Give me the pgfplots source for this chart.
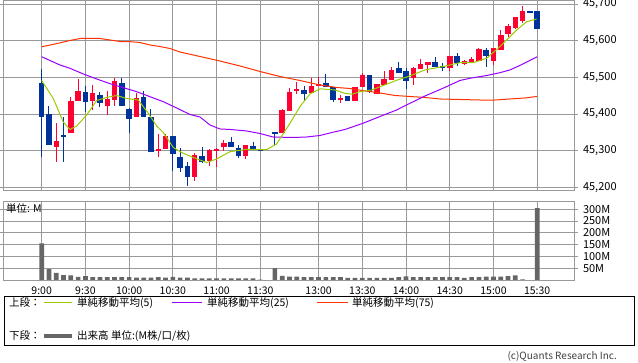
\documentclass[border=0pt]{standalone}
\usepackage{pgfplots}
\pgfplotsset{compat=1.18}
\usepackage{pgfplotstable}
\usepackage{fontspec}
\setmainfont{Noto Sans CJK JP}
\definecolor{upc}{HTML}{FF0033}
\definecolor{dnc}{HTML}{003399}
\definecolor{ma5c}{HTML}{99CC00}
\definecolor{ma25c}{HTML}{9900FF}
\definecolor{ma75c}{HTML}{FF3300}
\definecolor{volc}{HTML}{666666}
\definecolor{gridc}{HTML}{999999}

\pgfplotstableread{
x o h l c
2 45311 45375 45270 45326
4 45349 45446 45349 45435
5 45436 45495 45436 45463
7 45436 45479 45410 45456
9 45422 45463 45398 45441
10 45438 45498 45422 45490
13 45391 45458 45391 45444
16 45300 45345 45283 45304
17 45304 45345 45304 45340
21 45227 45293 45218 45287
23 45273 45304 45259 45302
24 45300 45306 45256 45304
25 45311 45329 45300 45322
28 45286 45314 45277 45314
33 45347 45414 45347 45411
34 45409 45470 45409 45459
35 45463 45486 45455 45467
37 45456 45497 45456 45476
38 45477 45501 45477 45482
41 45440 45452 45431 45444
43 45436 45473 45436 45473
44 45473 45513 45473 45506
46 45454 45482 45454 45482
47 45479 45517 45479 45495
48 45493 45529 45493 45520
51 45498 45528 45479 45525
52 45523 45550 45522 45536
53 45534 45542 45511 45542
56 45525 45558 45517 45558
58 45536 45547 45534 45545
59 45541 45556 45538 45549
60 45545 45581 45545 45577
62 45545 45581 45533 45579
63 45575 45629 45575 45615
64 45617 45645 45611 45640
65 45635 45664 45631 45664
66 45654 45695 45649 45682
}\up

\pgfplotstableread{
x o h l c
0 45484 45523 45282 45391
1 45401 45422 45315 45315
3 45343 45392 45270 45337
6 45460 45476 45406 45433
8 45452 45461 45419 45429
11 45485 45499 45422 45422
12 45415 45415 45349 45386
14 45446 45463 45392 45392
15 45393 45413 45297 45297
18 45340 45340 45245 45290
19 45283 45306 45243 45254
20 45258 45270 45204 45229
22 45285 45310 45265 45270
26 45324 45338 45309 45309
27 45308 45315 45280 45285
29 45313 45324 45302 45302
30 45303 45303 45300 45300
32 45352 45352 45315 45347
36 45465 45476 45435 45454
39 45485 45510 45473 45473
40 45474 45474 45434 45438
42 45450 45450 45436 45436
45 45506 45506 45456 45459
49 45526 45542 45513 45513
50 45517 45525 45469 45491
54 45541 45555 45529 45529
55 45532 45539 45518 45526
57 45558 45565 45531 45540
61 45575 45579 45529 45558
67 45681 45681 45678 45678
68 45681 45681 45631 45631
}\dn

\pgfplotsset{panel/.style={
  scale only axis, width=571pt, anchor=south west,
  xmin=-5.31, xmax=73.05,
  axis line style={draw=gridc, line width=0.8pt},
  grid=major, major grid style={draw=gridc, line width=0.8pt},
  xtick={0,6,12,18,24,30,38,44,50,56,62,68},
  xtick style={draw=none},
  ytick style={draw=gridc, line width=0.8pt},
  tick align=outside, major tick length=4pt,
  yticklabel pos=right,
  yticklabel style={anchor=west, xshift=1.5pt, font=\fontsize{11}{11}\selectfont},
}}

\begin{document}
\begin{tikzpicture}
\useasboundingbox (0pt,0pt) rectangle (638pt,362pt);

% price panel
\begin{axis}[panel, at={(3pt,172pt)}, height=190pt,
  ymin=45192.6, ymax=45710.9,
  ytick={45200,45300,45400,45500,45600,45700},
  yticklabels={{45,200},{45,300},{45,400},{45,500},{45,600},{45,700}},
  xticklabels={}]
% wicks
\addplot[draw=none, mark=none, error bars/.cd, y dir=both, y explicit, error mark=none,
  error bar style={line width=1pt, draw=upc}]
  table[x=x, y expr=(\thisrow{h}+\thisrow{l})/2, y error expr=(\thisrow{h}-\thisrow{l})/2] {\up};
\addplot[draw=none, mark=none, error bars/.cd, y dir=both, y explicit, error mark=none,
  error bar style={line width=1pt, draw=dnc}]
  table[x=x, y expr=(\thisrow{h}+\thisrow{l})/2, y error expr=(\thisrow{h}-\thisrow{l})/2] {\dn};
% bodies
\addplot[draw=none, mark=none, error bars/.cd, y dir=both, y explicit, error mark=none,
  error bar style={line width=5.5pt, draw=upc}]
  table[x=x, y expr=(\thisrow{o}+\thisrow{c})/2, y error expr=abs(\thisrow{c}-\thisrow{o})/2] {\up};
\addplot[draw=none, mark=none, error bars/.cd, y dir=both, y explicit, error mark=none,
  error bar style={line width=5.5pt, draw=dnc}]
  table[x=x, y expr=(\thisrow{o}+\thisrow{c})/2, y error expr=abs(\thisrow{o}-\thisrow{c})/2] {\dn};
% MA75
\addplot[ma75c, line width=1pt, mark=none] coordinates {
(0,45583.5)(1.14,45588)(2.51,45594)(3.88,45600.4)(5.26,45605.9)(6.63,45606.4)(8.0,45605.9)
(9.37,45601.8)(10.74,45597.7)(12.11,45597.2)(13.49,45595)(14.86,45588.2)(16.23,45584)
(17.6,45578.6)(18.98,45569)(21.72,45556.8)(24.46,45544.5)(27.21,45530.9)(29.95,45515.9)
(32.7,45502.2)(35.44,45491.3)(38.18,45479)(40.52,45472.2)(42.3,45469.5)(43.95,45464)
(46.0,45458.6)(48.48,45450.4)(50.53,45447.7)(52.59,45445)(54.65,45440.9)(57.39,45439.5)
(60.14,45438.1)(62.2,45438.1)(64.25,45440.9)(66.31,45443.6)(67.96,45447.7)};
% MA25
\addplot[ma25c, line width=1pt, mark=none] coordinates {
(0,45556.2)(1.14,45545.9)(2.51,45533.6)(3.88,45524.6)(5.71,45509.1)(7.55,45495.4)
(9.37,45482.7)(11.2,45471.7)(13.04,45460.8)(14.86,45447.1)(16.68,45433.5)(18.52,45416.3)
(20.35,45398.6)(21.72,45391.8)(23.09,45370)(24.46,45359.1)(25.84,45357.7)(28.13,45353.6)
(29.95,45346.8)(31.74,45337.2)(34.48,45335.8)(36.36,45337.2)(38.18,45341.3)(39.83,45349.5)
(41.62,45357.7)(44.09,45374.6)(46.42,45393.1)(48.71,45410.9)(50.54,45429.1)(52.59,45449.0)
(55.06,45470.0)(57.39,45491.3)(58.76,45497.3)(61.06,45504.9)(62.88,45512.6)(64.25,45520)
(65.62,45532.2)(66.99,45545.9)(68.0,45556.2)};
% MA5
\addplot[ma5c, line width=1pt, mark=none] coordinates {
(0,45491.3)(1.59,45442.2)(2.96,45378.1)(3.88,45357.7)(4.80,45367.2)(6.17,45397.2)
(7.55,45436.8)(8.92,45445.0)(10.29,45450.4)(11.66,45442.2)(13.25,45438.1)(14.63,45401.9)
(15.78,45367.2)(16.68,45349.5)(18.06,45308.6)(19.21,45294.9)(20.80,45281.3)(22.64,45267.6)
(24.01,45277.2)(25.84,45297.1)(28.13,45303.6)(30.87,45302.6)(32.24,45318.1)(33.38,45353.6)
(34.07,45374.6)(35.44,45419.9)(36.81,45454.5)(38.18,45468.7)(40.24,45465.4)(41.62,45456.4)
(42.58,45453.9)(43.67,45460.8)(45.28,45465.4)(46.87,45477.7)(48.71,45491.9)(50.30,45502.2)
(52.59,45520)(55.10,45529.5)(57.39,45539.9)(59.22,45539.9)(61.06,45551.9)(62.88,45583.5)
(65.18,45629.1)(66.55,45651.7)(67.92,45659.1)};
\end{axis}

% volume panel
\begin{axis}[panel, at={(3pt,82pt)}, height=78.3pt,
  ymin=0, ymax=332,
  ytick={50,100,150,200,250,300},
  yticklabels={50M,100M,150M,200M,250M,300M},
  xticklabels={9:00,9:30,10:00,10:30,11:00,11:30,13:00,13:30,14:00,14:30,15:00,15:30},
  xticklabel style={font=\fontsize{10.5}{10.5}\selectfont, yshift=1pt}]
\addplot[ybar, bar width=4.7pt, fill=volc, draw=none] coordinates {
(0,155)(1,46)(2,30)(3,21)(4,20)(5,13)(6,16)(7,12)(8,12)(9,12)(10,12)(11,12)(12,12)
(13,10)(14,10)(15,10)(16,12)(17,10)(18,13)(19,10)(20,10)(21,7)(22,7)(23,7)(24,7)
(25,7)(26,7)(27,7)(28,7)(29,7)(30,2)(32,50)(33,17)(34,14)(35,14)(36,12)(37,12)
(38,12)(39,12)(40,12)(41,12)(42,9)(43,9)(44,9)(45,9)(46,9)(47,9)(48,9)(49,12)
(50,15)(51,12)(52,12)(53,12)(54,12)(55,12)(56,12)(57,12)(58,9)(59,12)(60,12)
(61,14)(62,14)(63,14)(64,16)(65,20)(66,3)(68,305)};
\end{axis}
\node[anchor=west, inner sep=0pt, font=\fontsize{10.5}{10.5}\selectfont] at (6pt,153pt) {単位: M};

% legend
\draw[black, line width=0.8pt] (4pt,17pt) rectangle (634pt,66pt);
\begin{scope}[every node/.style={anchor=west, inner sep=0pt, font=\fontsize{10.5}{10.5}\selectfont}]
\node at (9pt,59pt) {上段：};
\draw[ma5c, line width=1pt] (44pt,59pt) -- (72pt,59pt);
\node at (77pt,59pt) {単純移動平均(5)};
\draw[ma25c, line width=1pt] (172pt,59pt) -- (202pt,59pt);
\node at (207pt,59pt) {単純移動平均(25)};
\draw[ma75c, line width=1pt] (317pt,59pt) -- (348pt,59pt);
\node at (352pt,59pt) {単純移動平均(75)};
\node at (9pt,26pt) {下段：};
\draw[volc, line width=3.5pt] (44pt,26pt) -- (72pt,26pt);
\node at (77pt,26pt) {出来高 単位:(M株/口/枚)};
\end{scope}
\node[anchor=east, inner sep=0pt, text=black!75, font=\fontsize{10}{10}\selectfont] at (617pt,6pt) {(c)Quants Research Inc.};
\end{tikzpicture}
\end{document}
